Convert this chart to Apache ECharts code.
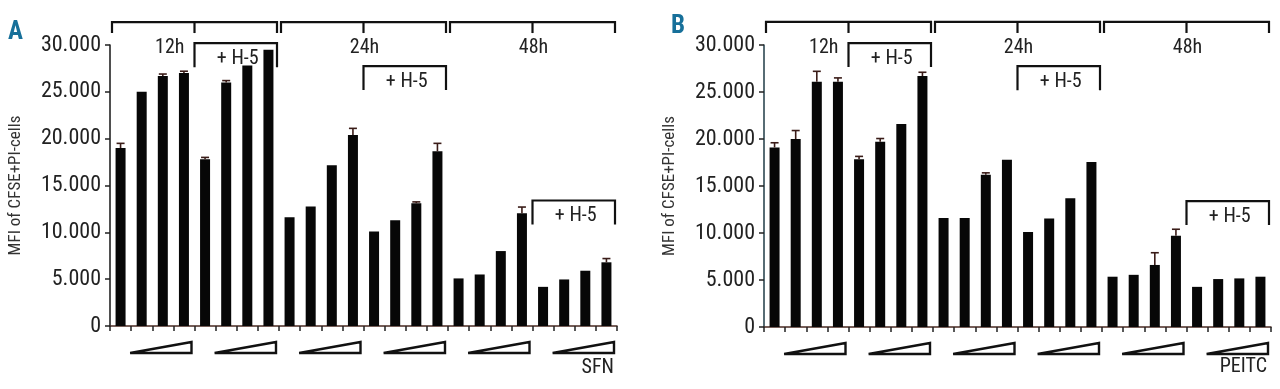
<!DOCTYPE html>
<html><head><meta charset="utf-8">
<script src="https://cdn.jsdelivr.net/npm/echarts@6/dist/echarts.min.js"></script>
<style>html,body{margin:0;padding:0;background:#fff}#c{width:1280px;height:389px}</style>
</head><body><div id="c"></div>
<script>
// ---- data ----
const categories = ['12h-c','12h-d1','12h-d2','12h-d3','12h-H5','12h-H5-d1','12h-H5-d2','12h-H5-d3',
  '24h-c','24h-d1','24h-d2','24h-d3','24h-H5','24h-H5-d1','24h-H5-d2','24h-H5-d3',
  '48h-c','48h-d1','48h-d2','48h-d3','48h-H5','48h-H5-d1','48h-H5-d2','48h-H5-d3'];
const timepoints = ['12h', '24h', '48h'];
const h5Label = '+ H-5';
const sfnMeans = [19000,25000,26700,27000,17800,26000,27800,29500,
  11600,12750,17150,20400,10100,11300,13100,18650,
  5080,5500,8000,12050,4180,4970,5900,6800];
const sfnErrTop = [19500,null,26900,27200,18000,26200,null,null,
  null,null,null,21100,null,null,13250,19500,
  null,null,null,12700,null,null,null,7200];
const peitcMeans = [19100,20000,26100,26100,17850,19700,21600,26700,
  11600,11600,16200,17800,10100,11550,13700,17550,
  5350,5550,6600,9700,4270,5100,5170,5350];
const peitcErrTop = [19600,20900,27200,26500,18150,20050,null,27100,
  null,null,16400,null,null,null,null,null,
  null,null,7900,10400,null,null,null,null];
const yMin = 0, yMax = 30000, yStep = 5000;
const topBracketLevel = 32450;
const h5Levels = [30200, 27750, 13400];
const agents = ['SFN', 'PEITC'];
const panelLetters = ['A', 'B'];
const yName = 'MFI of CFSE+PI-cells';

// ---- chart ----
const FONT = 'Roboto Condensed';
const chart = echarts.init(document.getElementById('c'));

function errData(means, tops) {
  return means.map((m, i) => [i, m, tops[i] == null ? m : tops[i]]);
}
function errRender(params, api) {
  const top = api.value(2), m = api.value(1);
  if (top <= m) return null;
  const p0 = api.coord([api.value(0), m]);
  const p1 = api.coord([api.value(0), top]);
  const st = { stroke: '#3a1c18', lineWidth: 1.6 };
  return { type: 'group', children: [
    { type: 'line', shape: { x1: p0[0], y1: p0[1], x2: p1[0], y2: p1[1] }, style: st },
    { type: 'line', shape: { x1: p1[0] - 4, y1: p1[1], x2: p1[0] + 4, y2: p1[1] }, style: st }
  ]};
}
function bracketRender(params, api) {
  const t = params.dataIndex;
  const s = t * 8, e = t * 8 + 7, mid = t * 8 + 4;
  const bw = api.size([1, 0])[0];
  const a = api.coord([s, topBracketLevel]);
  const b = api.coord([e, topBracketLevel]);
  const m = api.coord([mid, topBracketLevel]);
  const x0 = a[0] - bw / 2 + 2, x1 = b[0] + bw / 2 - 2, xm = m[0] - bw / 2, y = a[1];
  const st = { stroke: '#111', lineWidth: 2.2, fill: null };
  const hy = api.coord([mid, h5Levels[t]])[1];
  const children = [
    { type: 'polyline', shape: { points: [[x0, y + 11], [x0, y], [x1, y], [x1, y + 11]] }, style: st },
    { type: 'line', shape: { x1: xm, y1: y, x2: xm, y2: y + 11 }, style: st },
    { type: 'text', style: { text: timepoints[t], x: t === 0 ? xm - 10 : xm + 1, y: y + 26,
        align: t === 0 ? 'right' : 'center', verticalAlign: 'middle',
        font: '20px "' + FONT + '"', fill: '#222' } },
    { type: 'polyline', shape: { points: [[xm, hy + 24], [xm, hy], [x1, hy], [x1, hy + 24]] }, style: st },
    { type: 'text', style: { text: h5Label, x: (xm + x1) / 2 + 2, y: hy + 16,
        align: 'center', verticalAlign: 'middle', font: '20px "' + FONT + '"', fill: '#222' } }
  ];
  return { type: 'group', children };
}
function triRender(params, api) {
  const g = params.dataIndex;
  const s = g * 4 + 1, e = g * 4 + 3;
  const bw = api.size([1, 0])[0];
  const a = api.coord([s, 0]), b = api.coord([e, 0]);
  const x0 = a[0] - bw / 2 - 1, x1 = b[0] + bw / 2 - 3, y0 = a[1];
  return { type: 'polygon', shape: { points: [[x0, y0 + 27], [x1, y0 + 16], [x1, y0 + 27]] },
    style: { fill: '#fff', stroke: '#111', lineWidth: 2.4, lineJoin: 'miter' } };
}

const grids = [
  { left: 110, top: 45, width: 507, height: 281 },
  { left: 764, top: 45, width: 507, height: 282 }
];
const means = [sfnMeans, peitcMeans];
const errs = [sfnErrTop, peitcErrTop];
const yAxisColors = ['#151515', '#1f3b46'];

const option = {
  animation: false,
  backgroundColor: '#fff',
  grid: grids,
  xAxis: [0, 1].map(k => ({
    type: 'category', gridIndex: k, data: categories,
    axisLine: { lineStyle: { color: '#4a2a22', width: 1.5 } },
    axisTick: { show: true, length: 5, interval: 0, lineStyle: { color: '#222', width: 1.5 } },
    axisLabel: { show: false }
  })),
  yAxis: [0, 1].map(k => ({
    type: 'value', gridIndex: k, min: yMin, max: yMax, interval: yStep,
    splitLine: { show: false },
    axisLine: { show: true, lineStyle: { color: yAxisColors[k], width: 1.5 } },
    axisTick: { show: true, length: 5, lineStyle: { color: '#222', width: 1.5 } },
    axisLabel: { fontFamily: FONT, fontSize: 22, color: '#222', margin: 9,
      formatter: v => v === 0 ? '0' : (v / 1000) + '.000' },
    name: yName, nameLocation: 'middle', nameGap: 86,
    nameTextStyle: { fontFamily: FONT, fontSize: 17, color: '#333' }
  })),
  graphic: [
    { type: 'text', left: 8, top: 20, style: { text: panelLetters[0], font: 'bold 25px "' + FONT + '"', fill: '#17709a' } },
    { type: 'text', left: 671, top: 14, style: { text: panelLetters[1], font: 'bold 25px "' + FONT + '"', fill: '#17709a' } },
    { type: 'text', right: 1280 - 614, top: 358, style: { text: agents[0], font: '20px "' + FONT + '"', fill: '#222' } },
    { type: 'text', right: 1280 - 1267, top: 357, style: { text: agents[1], font: '20px "' + FONT + '"', fill: '#222' } }
  ],
  series: []
};
[0, 1].forEach(k => {
  option.series.push({
    type: 'bar', xAxisIndex: k, yAxisIndex: k, data: means[k], barWidth: 10,
    itemStyle: { color: '#070707' }
  });
  option.series.push({
    type: 'custom', xAxisIndex: k, yAxisIndex: k, data: errData(means[k], errs[k]),
    renderItem: errRender, clip: false, z: 3
  });
  option.series.push({
    type: 'custom', xAxisIndex: k, yAxisIndex: k, data: timepoints.map((t, i) => [i * 8, topBracketLevel]),
    renderItem: bracketRender, clip: false, encode: { x: 0, y: 1 }
  });
  option.series.push({
    type: 'custom', xAxisIndex: k, yAxisIndex: k, data: [0, 1, 2, 3, 4, 5].map(g => [g * 4 + 1, 0]),
    renderItem: triRender, clip: false, encode: { x: 0, y: 1 }
  });
});
chart.setOption(option);
</script></body></html>
